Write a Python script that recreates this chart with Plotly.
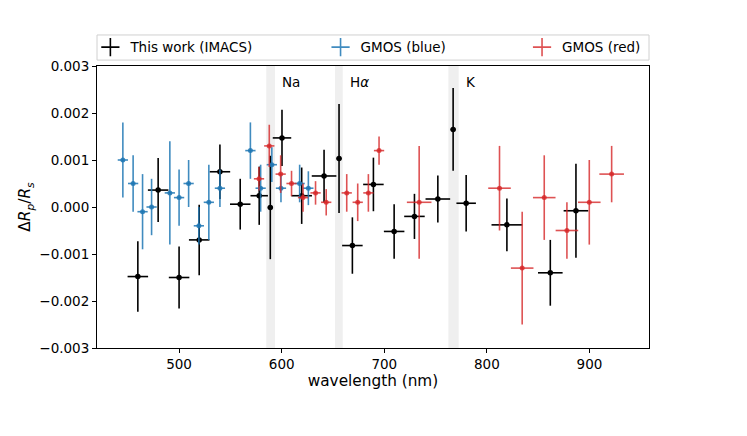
import plotly.graph_objects as go

# IMACS (this work)
imacs_wl = [459.8, 479.6, 500.0, 519.6, 539.8, 559.6, 578.1, 588.9, 600.3, 619.5, 641.3,
            655.9, 668.9, 689.4, 709.6, 729.4, 752.2, 767.1, 779.8, 819.5, 861.8, 886.8]
imacs_wl_err = [10, 10, 10, 10, 10, 10, 8.5, 2.5, 9, 10, 12,
                2.5, 10, 10, 10, 10, 12, 2.5, 9.5, 15, 12, 12]
imacs_dr = [-0.00148, 0.00036, -0.0015, -0.0007, 0.00075, 0.00006, 0.00024, -0.00001, 0.00147, 0.00024, 0.00066,
            0.00103, -0.00082, 0.00048, -0.00052, -0.0002, 0.00017, 0.00165, 0.00008, -0.00038, -0.0014, -0.00008]
imacs_dr_err = [0.00075, 0.00068, 0.00066, 0.00075, 0.00058, 0.00054, 0.00062, 0.0011, 0.0006, 0.0006, 0.00056,
                0.00116, 0.0006, 0.00057, 0.00058, 0.00048, 0.0005, 0.00088, 0.0006, 0.00056, 0.0007, 0.001]

# GMOS blue
blue_wl = [445.2, 455.2, 464.4, 473.2, 491.0, 500.0, 509.3, 519.3, 529.0, 539.8,
           569.5, 579.5, 590.4, 599.3, 617.5, 626.0]
blue_dr = [0.0010, 0.0005, -0.0001, 0.0000, 0.0003, 0.0002, 0.0005, -0.0004, 0.0001, 0.0004,
           0.0012, 0.0004, 0.0009, 0.0004, 0.0005, 0.0004]
blue_dr_err = [0.0008, 0.0006, 0.0008, 0.0006, 0.0011, 0.0006, 0.0005, 0.0004, 0.0008, 0.0004,
               0.0006, 0.0005, 0.00037, 0.0003, 0.0004, 0.00036]

# GMOS red
red_wl = [577.9, 587.9, 599.0, 609.6, 620.8, 633.0, 643.4, 663.4, 674.1, 684.5, 694.9,
          734.0, 812.3, 834.4, 855.9, 878.0, 899.8, 921.6]
red_wl_err = [5, 5, 5, 5, 5, 5, 5, 5, 5, 5, 5,
              12, 11, 11, 11, 11, 11, 12]
red_dr = [0.0006, 0.0013, 0.0007, 0.0005, 0.0002, 0.0003, 0.0001, 0.0003, 0.0001, 0.0003, 0.0012,
          0.0001, 0.0004, -0.0013, 0.0002, -0.0005, 0.0001, 0.0007]
red_dr_err = [0.00025, 0.00045, 0.0004, 0.00027, 0.0003, 0.00025, 0.00028, 0.0004, 0.0004, 0.0004, 0.0003,
              0.0012, 0.0009, 0.0012, 0.0009, 0.0006, 0.0009, 0.0006]

# absorption line regions
line_names = ["Na", "H<i>α</i>", "K"]
line_lo = [585.0, 652.0, 762.5]
line_hi = [593.5, 659.5, 772.5]

BLUE = "rgba(31,119,180,0.85)"
RED = "rgba(214,39,40,0.8)"
BLACK = "black"
FONT = "DejaVu Sans"

fig = go.Figure()


def add_series(wl, dr, dr_err, wl_err, color, msize):
    fig.add_trace(go.Scatter(
        x=wl, y=dr, mode="markers", showlegend=False,
        marker=dict(color=color, size=msize),
        error_y=dict(type="data", array=dr_err, color=color, thickness=1.6, width=0),
        error_x=dict(type="data", array=wl_err, color=color, thickness=1.6, width=0),
    ))


add_series(imacs_wl, imacs_dr, imacs_dr_err, imacs_wl_err, BLACK, 5.5)
add_series(blue_wl, blue_dr, blue_dr_err, [5] * len(blue_wl), BLUE, 5)
add_series(red_wl, red_dr, red_dr_err, red_wl_err, RED, 5)

# legend entries
for name, color, leg in [("This work (IMACS)", BLACK, "legend"),
                         ("GMOS (blue)", BLUE, "legend2"),
                         ("GMOS (red)", RED, "legend3")]:
    fig.add_trace(go.Scatter(
        x=[None], y=[None], mode="markers", name=name, legend=leg,
        marker=dict(symbol="cross-thin", size=13, line=dict(color=color, width=1.6)),
    ))

for name, lo, hi in zip(line_names, line_lo, line_hi):
    fig.add_vrect(x0=lo, x1=hi, fillcolor="#efefef", line_width=0, layer="below")
    fig.add_annotation(x=hi + 5, y=0.943, xref="x", yref="paper", text=name,
                       showarrow=False, xanchor="left", yanchor="middle",
                       font=dict(size=13.5, color="black"))

# legend frame
fig.add_shape(type="rect", xref="paper", yref="paper", x0=0, x1=1, y0=1.021, y1=1.11,
              line=dict(color="#d0d0d0", width=1), fillcolor="white")

leg_common = dict(orientation="h", yanchor="middle", y=1.066, xanchor="left",
                  bgcolor="rgba(0,0,0,0)", borderwidth=0, font=dict(size=13.5, color="black"))

# the page body adds an 8px offset, so the margins are shifted to keep the axes in place
fig.update_layout(
    width=747, height=436,
    margin=dict(l=89, r=106, t=58, b=96),
    paper_bgcolor="white", plot_bgcolor="white",
    font=dict(family=FONT, size=13.5, color="black"),
    legend=dict(x=-0.012, **leg_common),
    legend2=dict(x=0.405, **leg_common),
    legend3=dict(x=0.77, **leg_common),
)

fig.update_xaxes(
    range=[420, 958], tickvals=[500, 600, 700, 800, 900],
    showline=True, linecolor="black", linewidth=1, mirror=True,
    ticks="outside", ticklen=4, tickcolor="black", showgrid=False, zeroline=False,
    tickfont=dict(size=13.5),
    title=dict(text="wavelength (nm)", font=dict(size=15.3), standoff=2),
)
fig.update_yaxes(
    range=[-0.003, 0.003], dtick=0.001, tickformat=".3f",
    showline=True, linecolor="black", linewidth=1, mirror=True,
    ticks="outside", ticklen=4, tickcolor="black", showgrid=False, zeroline=False,
    tickfont=dict(size=13.5),
    title=dict(text="Δ<i>R</i><sub><i>p</i></sub>/<i>R</i><sub><i>s</i></sub>",
               font=dict(size=15.3), standoff=4),
)

fig.write_html("out.html")
